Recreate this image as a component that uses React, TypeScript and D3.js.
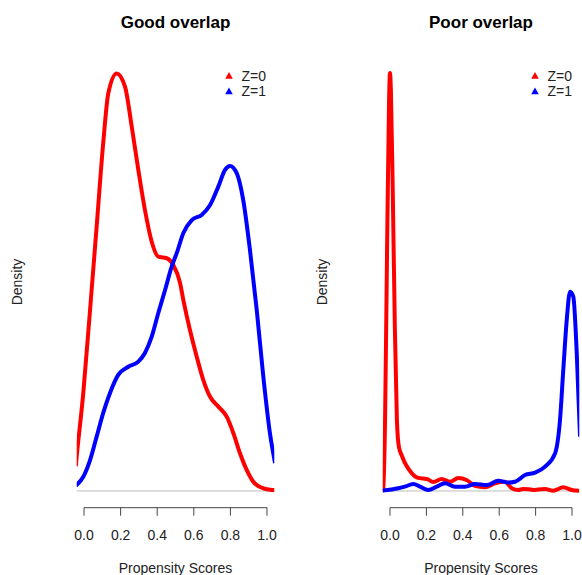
import React from "react";
import * as d3 from "d3";

// Good overlap panel: density estimates (x = propensity score, y = density)
const goodX0 = [-0.045, -0.040, -0.004, 0.033, 0.069, 0.105, 0.133, 0.179, 0.224, 0.261, 0.297, 0.333, 0.370, 0.406, 0.452, 0.488, 0.525, 0.543, 0.579, 0.616, 0.652, 0.689, 0.734, 0.780, 0.816, 0.852, 0.889, 0.925, 0.980, 1.034, 1.045];
const goodY0 = [0.13, 0.181, 0.516, 0.953, 1.391, 1.832, 2.095, 2.198, 2.128, 1.917, 1.689, 1.479, 1.312, 1.233, 1.225, 1.189, 1.095, 1.005, 0.847, 0.707, 0.584, 0.496, 0.444, 0.391, 0.305, 0.200, 0.111, 0.049, 0.014, 0.005, 0.004];
const goodX1 = [-0.045, -0.040, -0.004, 0.033, 0.069, 0.105, 0.142, 0.187, 0.242, 0.297, 0.333, 0.370, 0.406, 0.443, 0.479, 0.507, 0.543, 0.589, 0.643, 0.689, 0.734, 0.770, 0.798, 0.834, 0.870, 0.907, 0.944, 0.980, 1.016, 1.044];
const goodY1 = [0.028, 0.032, 0.075, 0.163, 0.286, 0.411, 0.516, 0.611, 0.654, 0.681, 0.726, 0.812, 0.937, 1.058, 1.181, 1.253, 1.358, 1.426, 1.453, 1.505, 1.602, 1.689, 1.711, 1.674, 1.532, 1.268, 0.953, 0.602, 0.305, 0.147];

// Poor overlap panel
const poorX0 = [-0.042, -0.038, -0.027, -0.016, -0.005, 0.000, 0.005, 0.016, 0.027, 0.038, 0.049, 0.066, 0.082, 0.119, 0.155, 0.202, 0.238, 0.284, 0.330, 0.375, 0.421, 0.467, 0.522, 0.577, 0.632, 0.669, 0.705, 0.731, 0.760, 0.786, 0.815, 0.852, 0.897, 0.952, 0.998, 1.040];
const poorY0 = [0.0, 0.06, 4.08, 13.84, 22.45, 24.0, 23.03, 16.71, 9.24, 4.08, 2.53, 2.01, 1.61, 1.03, 0.75, 0.69, 0.52, 0.69, 0.53, 0.75, 0.63, 0.29, 0.21, 0.44, 0.53, 0.16, 0.06, 0.11, 0.10, 0.06, 0.09, 0.11, 0.02, 0.21, 0.06, 0.02];
const poorX1 = [-0.042, 0.046, 0.082, 0.128, 0.165, 0.210, 0.257, 0.302, 0.357, 0.412, 0.467, 0.531, 0.595, 0.650, 0.687, 0.742, 0.797, 0.852, 0.907, 0.934, 0.952, 0.971, 0.989, 1.007, 1.026, 1.044];
const poorY1 = [0.02, 0.16, 0.25, 0.40, 0.25, 0.06, 0.25, 0.44, 0.25, 0.25, 0.40, 0.34, 0.59, 0.48, 0.53, 0.92, 1.05, 1.40, 2.16, 4.08, 6.95, 9.82, 11.44, 11.16, 7.92, 3.12];

const ticks = [0, 0.2, 0.4, 0.6, 0.8, 1.0];
const tickLabels = ["0.0", "0.2", "0.4", "0.6", "0.8", "1.0"];
const legendLabels = ["Z=0", "Z=1"];
const colors = ["#ff0000", "#0000ff"];

const FONT = "'Liberation Sans', Arial, Helvetica, sans-serif";

type PanelProps = {
  title: string;
  left: number;
  right: number;
  xs: number[][];
  ys: number[][];
  ymax: number;
  legendX: number;
  ylabX: number;
  clipId: string;
};

function Panel({ title, left, right, xs, ys, ymax, legendX, ylabX, clipId }: PanelProps) {
  const top = 56.3;
  const bottom = 507.7;
  const x = d3.scaleLinear().domain([-0.04, 1.04]).range([left, right]);
  const y = d3.scaleLinear().domain([-0.04 * ymax, 1.04 * ymax]).range([bottom, top]);
  const line = d3
    .line<[number, number]>()
    .x((d) => x(d[0]))
    .y((d) => y(d[1]))
    .curve(d3.curveMonotoneX);
  const cx = (left + right) / 2;
  const cy = (top + bottom) / 2;
  return (
    <g>
      <defs>
        <clipPath id={clipId}>
          <rect x={left} y={top} width={right - left} height={bottom - top} />
        </clipPath>
      </defs>
      <text x={cx} y={28} textAnchor="middle" fontFamily={FONT} fontWeight="bold" fontSize={17} fill="#000">
        {title}
      </text>
      <line x1={left} x2={right} y1={y(0)} y2={y(0)} stroke="#bebebe" strokeWidth={1} />
      <g clipPath={`url(#${clipId})`}>
        {xs.map((xx, i) => (
          <path
            key={i}
            d={line(xx.map((v, j) => [v, ys[i][j]] as [number, number])) || ""}
            fill="none"
            stroke={colors[i]}
            strokeWidth={4}
            strokeLinejoin="round"
          />
        ))}
      </g>
      {/* x axis */}
      <line x1={x(0)} x2={x(1)} y1={bottom} y2={bottom} stroke="#444" strokeWidth={1} />
      {ticks.map((t, i) => (
        <g key={i}>
          <line x1={x(t)} x2={x(t)} y1={bottom} y2={bottom + 8} stroke="#444" strokeWidth={1} />
          <text x={x(t)} y={540} textAnchor="middle" fontFamily={FONT} fontSize={14} fill="#222">
            {tickLabels[i]}
          </text>
        </g>
      ))}
      <text x={cx} y={573} textAnchor="middle" fontFamily={FONT} fontSize={14} fill="#222">
        Propensity Scores
      </text>
      <text
        x={ylabX}
        y={cy}
        transform={`rotate(-90, ${ylabX}, ${cy})`}
        textAnchor="middle"
        dominantBaseline="central"
        fontFamily={FONT}
        fontSize={14}
        fill="#222"
      >
        Density
      </text>
      {/* legend */}
      {legendLabels.map((lab, i) => {
        const ly = 75.5 + i * 15.5;
        const tx = legendX;
        return (
          <g key={lab}>
            <path
              d={`M${tx - 3.8},${ly + 3.2} L${tx + 3.8},${ly + 3.2} L${tx},${ly - 3.6} Z`}
              fill={colors[i]}
            />
            <text x={tx + 12.5} y={ly + 5} fontFamily={FONT} fontSize={14} fill="#222">
              {lab}
            </text>
          </g>
        );
      })}
    </g>
  );
}

export default function App() {
  return (
    <svg
      width={582}
      height={575}
      style={{ position: "absolute", left: 0, top: 0, background: "#fff" }}
    >
      <rect width={582} height={575} fill="#fff" />
      <Panel
        title="Good overlap"
        left={76.7}
        right={274.3}
        xs={[goodX0, goodX1]}
        ys={[goodY0, goodY1]}
        ymax={2.2}
        legendX={229}
        ylabX={17}
        clipId="clipGood"
      />
      <Panel
        title="Poor overlap"
        left={382.7}
        right={579.3}
        xs={[poorX0, poorX1]}
        ys={[poorY0, poorY1]}
        ymax={24}
        legendX={535}
        ylabX={322}
        clipId="clipPoor"
      />
    </svg>
  );
}
